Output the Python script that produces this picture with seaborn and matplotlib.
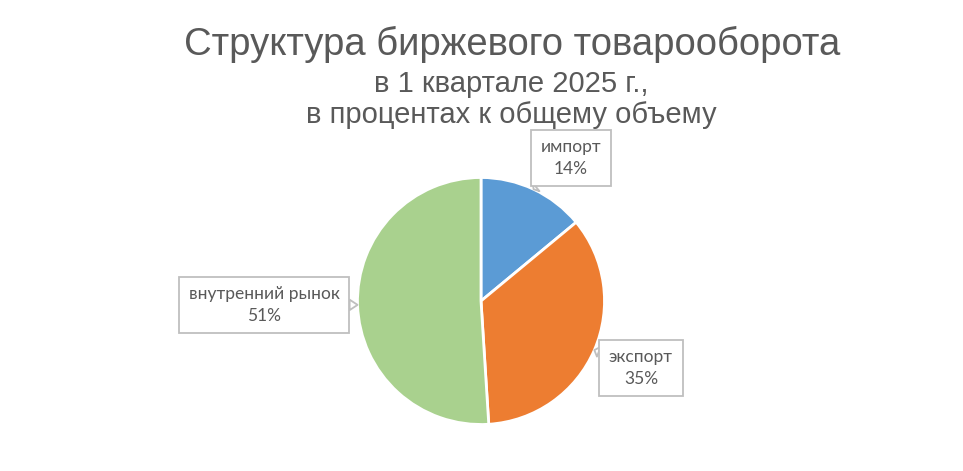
import numpy as np
import matplotlib
matplotlib.use('Agg')
import matplotlib.pyplot as plt
import seaborn as sns

# data
categories = ['импорт', 'экспорт', 'внутренний рынок']
shares = [14, 35, 51]
colors = ['#5B9BD5', '#ED7D31', '#A9D18E']
title_lines = ['Структура биржевого товарооборота',
               'в 1 квартале 2025 г.,',
               'в процентах к общему объему']

sns.set_theme(style='white')
plt.rcParams['font.family'] = ['Lato', 'DejaVu Sans']

W, H = 963, 471
fig = plt.figure(figsize=(W / 100, H / 100), dpi=100)
ax = fig.add_axes([0, 0, 1, 1])

# pie in pixel coordinates
cx, cy, r = 481, H - 301, 123.5
wedges, _ = ax.pie(shares, colors=colors, startangle=90, counterclock=False,
                   center=(cx, cy), radius=r,
                   wedgeprops=dict(edgecolor='white', linewidth=2))
ax.set_xlim(0, W)
ax.set_ylim(0, H)
ax.set_aspect('equal')
ax.axis('off')

# callout boxes (box centers in pixels)
box_pos = [(571, H - 158), (641, H - 368), (264, H - 305)]
gray = '#595959'
for w, cat, val, pos in zip(wedges, categories, shares, box_pos):
    ang = np.deg2rad((w.theta1 + w.theta2) / 2)
    tip = (cx + r * np.cos(ang), cy + r * np.sin(ang))
    ax.annotate(f'{cat}\n{val}%', xy=tip, xytext=pos,
                ha='center', va='center', fontsize=12.5, color=gray,
                linespacing=1.45, annotation_clip=False,
                bbox=dict(boxstyle='square,pad=0.55', fc='white', ec='#BFBFBF', lw=1.3),
                arrowprops=dict(arrowstyle='wedge,tail_width=0.6', fc='white',
                                ec='#BFBFBF', lw=1.3, shrinkA=0, shrinkB=0))

# title
tfont = ['Liberation Sans Narrow', 'Liberation Sans', 'DejaVu Sans']
fig.text(512 / W, 1 - 44 / H, title_lines[0], ha='center', va='center',
         fontsize=27.5, color=gray, family=tfont)
fig.text(511 / W, 1 - 84 / H, title_lines[1], ha='center', va='center',
         fontsize=21, color=gray, family=tfont)
fig.text(511 / W, 1 - 115 / H, title_lines[2], ha='center', va='center',
         fontsize=21, color=gray, family=tfont)

fig.savefig('out.png', dpi=100, facecolor='white')
